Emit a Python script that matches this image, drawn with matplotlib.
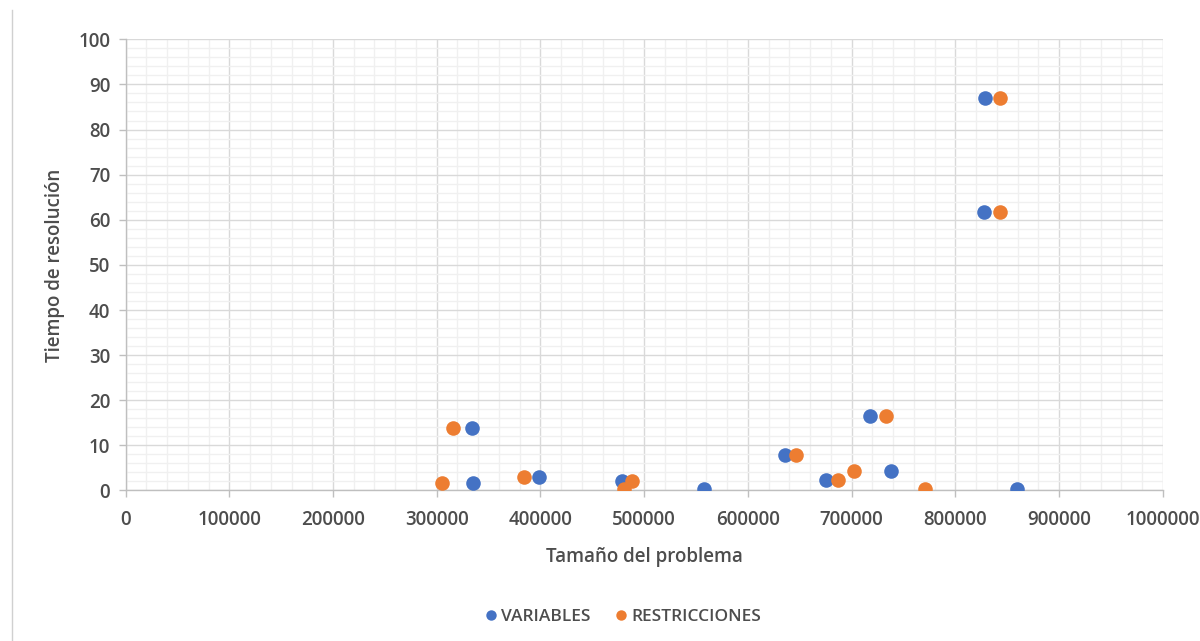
import matplotlib
matplotlib.use("Agg")
import matplotlib.pyplot as plt
from matplotlib.lines import Line2D
from matplotlib.ticker import MultipleLocator

# Problem size vs. solve time, split by variables and constraints
var_size = [334100, 335100, 398400, 478300, 558000, 635400, 674900,
            717300, 738200, 859200, 828700, 827400]
var_time = [13.8, 1.6, 3.0, 2.1, 0.3, 7.9, 2.3, 16.6, 4.4, 0.3, 86.9, 61.8]

res_size = [315200, 305200, 384200, 488600, 480300, 646600, 686700,
            732600, 702100, 770200, 843300, 843300]
res_time = [13.8, 1.6, 3.0, 2.1, 0.3, 7.9, 2.3, 16.6, 4.4, 0.3, 86.9, 61.8]

series_names = ["VARIABLES", "RESTRICCIONES"]
series_colors = ["#4472C4", "#ED7D31"]

x_title = "Tamaño del problema"
y_title = "Tiempo de resolución"

text_color = "#4D4D4D"
plt.rcParams["font.family"] = ["Open Sans", "DejaVu Sans"]

fig = plt.figure(figsize=(12, 6.41), dpi=100)
ax = fig.add_axes([0.1046, 0.2348, 0.8645, 0.7039])

ax.scatter(var_size, var_time, s=110, color=series_colors[0], zorder=3,
           linewidths=0)
ax.scatter(res_size, res_time, s=110, color=series_colors[1], zorder=3,
           linewidths=0)

ax.set_xlim(0, 1000000)
ax.set_ylim(0, 100)
ax.xaxis.set_major_locator(MultipleLocator(100000))
ax.xaxis.set_minor_locator(MultipleLocator(20000))
ax.yaxis.set_major_locator(MultipleLocator(10))
ax.yaxis.set_minor_locator(MultipleLocator(2))
ax.ticklabel_format(style="plain", axis="x", useOffset=False)

ax.grid(which="major", color="#D9D9D9", linewidth=1.0, zorder=0)
ax.grid(which="minor", color="#F0F0F0", linewidth=1.0, zorder=0)
ax.set_axisbelow(True)

for side in ("top", "right"):
    ax.spines[side].set_visible(False)
for side in ("left", "bottom"):
    ax.spines[side].set_color("#BFBFBF")
    ax.spines[side].set_linewidth(1.0)

ax.tick_params(which="major", length=5, width=1, color="#BFBFBF",
               labelsize=13.5, labelcolor=text_color)
ax.tick_params(axis="x", which="major", pad=9)
ax.tick_params(axis="y", which="major", pad=6)
ax.tick_params(which="minor", length=0)
for lbl in ax.get_xticklabels() + ax.get_yticklabels():
    lbl.set_fontweight("semibold")

ax.set_xlabel(x_title, fontsize=13.5, color=text_color, labelpad=12,
              fontweight="semibold")
ax.set_ylabel(y_title, fontsize=13.5, color=text_color, labelpad=18,
              fontweight="semibold")
ax.yaxis.set_label_coords(-0.058, 0.5)

handles = [Line2D([], [], marker="o", linestyle="none", markersize=7.5,
                  markerfacecolor=c, markeredgewidth=0) for c in series_colors]
leg = fig.legend(handles, series_names, loc="center", ncol=2,
                 bbox_to_anchor=(0.518, 0.037), frameon=False,
                 fontsize=12.5, handletextpad=0.1, columnspacing=1.2,
                 handlelength=1.0)
for t in leg.get_texts():
    t.set_color(text_color)
    t.set_fontweight("semibold")

# faint frame edge along the left border
fig.add_artist(Line2D([0.010, 0.010], [0.0, 0.985], color="#D0D0D0",
                      linewidth=1.0, transform=fig.transFigure))

fig.savefig("out.png", dpi=100, facecolor="white")
